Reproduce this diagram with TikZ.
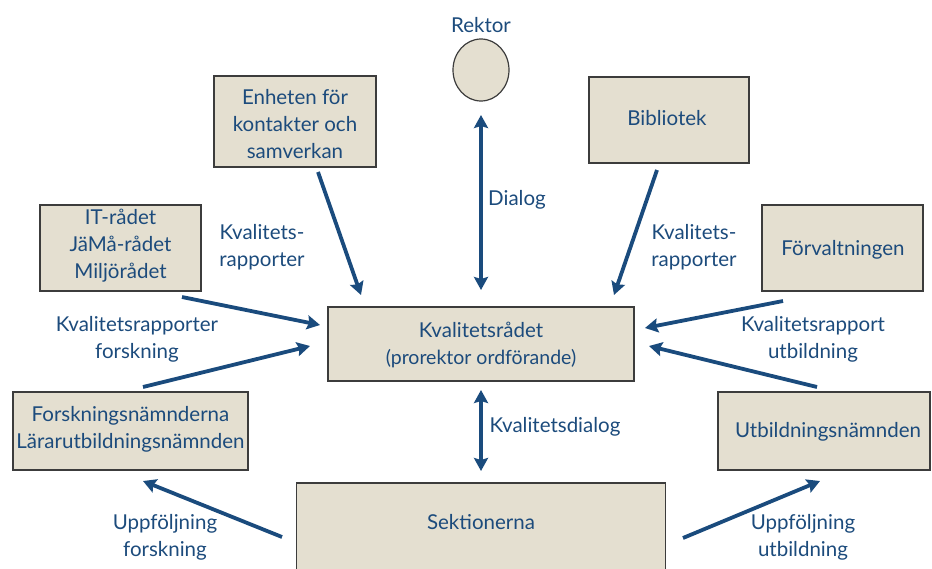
\documentclass[tikz,border=0pt]{standalone}
\usepackage{fontspec}
\setmainfont{Lato}
\usetikzlibrary{arrows.meta,shapes.geometric}
\definecolor{txtblue}{HTML}{1C4B7C}
\definecolor{arrblue}{HTML}{1A4B7D}
\definecolor{boxfill}{HTML}{E4DFD0}
\definecolor{boxline}{HTML}{3C3C3C}
\begin{document}
\begin{tikzpicture}[x=1pt,y=-1pt,
  txt/.style={text=txtblue,font=\fontsize{20.5}{27}\selectfont,align=center,inner sep=0pt},
  box/.style={draw=boxline,line width=1.2pt,fill=boxfill,inner sep=0pt},
  arr/.style={draw=arrblue,line width=3.8pt,-{Stealth[length=13pt,width=14pt,inset=2pt]}},
  darr/.style={draw=arrblue,line width=3.8pt,{Stealth[length=13pt,width=14pt,inset=2pt]}-{Stealth[length=13pt,width=14pt,inset=2pt]}}]
\useasboundingbox (0,0) rectangle (932,568);
% boxes
\node[box,ellipse,minimum width=56pt,minimum height=62pt] (rektor) at (481,70) {};
\node[txt] (rektorlbl) at (481,25) {Rektor};
\node[box,minimum width=162pt,minimum height=91pt] (enh) at (295,121.5) {};
\node[txt] (enhtxt) at (295,124) {Enheten för\\kontakter och\\samverkan};
\node[box,minimum width=160pt,minimum height=86pt] (bib) at (669,120) {};
\node[txt] (bibtxt) at (667,118) {Bibliotek};
\node[box,minimum width=161pt,minimum height=86pt] (it) at (120.5,248) {};
\node[txt] (ittxt) at (120.5,246) {IT-rådet\\JäMå-rådet\\Miljörådet};
\node[box,minimum width=161pt,minimum height=86pt] (forv) at (842.5,248) {};
\node[txt] (forvtxt) at (843,250) {Förvaltningen};
\node[box,minimum width=306pt,minimum height=74pt] (kr) at (481,344) {};
\node[txt] (krtxt) at (481,345) {Kvalitetsrådet\\{\fontsize{19.5}{25}\selectfont(prorektor ordförande)}};
\node[box,minimum width=235pt,minimum height=78pt] (fn) at (130.5,431) {};
\node[txt] (fntxt) at (130.5,429) {Forskningsnämnderna\\Lärarutbildningsnämnden};
\node[box,minimum width=212pt,minimum height=78pt] (un) at (824,431) {};
\node[txt] (untxt) at (828,432) {Utbildningsnämnden};
\node[box,minimum width=369pt,minimum height=100pt] (sek) at (481,533) {};
\node[txt] (sektxt) at (481,522) {Sektionerna};
% arrow end coordinates
\coordinate (a1s) at (481,115); \coordinate (a1e) at (481,290);
\coordinate (a2s) at (481,390); \coordinate (a2e) at (481,471);
\coordinate (a3s) at (318,172); \coordinate (a3e) at (361,295);
\coordinate (a4s) at (657,170); \coordinate (a4e) at (614,295);
\coordinate (a5s) at (182,297); \coordinate (a5e) at (320,325);
\coordinate (a6s) at (143,387); \coordinate (a6e) at (310,346);
\coordinate (a7s) at (783,301); \coordinate (a7e) at (645,328);
\coordinate (a8s) at (817,387); \coordinate (a8e) at (649,346);
\coordinate (a9s) at (282,537); \coordinate (a9e) at (143,481);
\coordinate (a10s) at (683,538); \coordinate (a10e) at (820,481);
\draw[darr] (a1s) -- (a1e);
\draw[darr] (a2s) -- (a2e);
\draw[arr] (a3s) -- (a3e);
\draw[arr] (a4s) -- (a4e);
\draw[arr] (a5s) -- (a5e);
\draw[arr] (a6s) -- (a6e);
\draw[arr] (a7s) -- (a7e);
\draw[arr] (a8s) -- (a8e);
\draw[arr] (a9s) -- (a9e);
\draw[arr] (a10s) -- (a10e);
% labels
\node[txt] (l1) at (517,200) {Dialog};
\node[txt] (l2) at (555,427) {Kvalitetsdialog};
\node[txt] (l3) at (262,247) {Kvalitets-\\rapporter};
\node[txt] (l4) at (694,247) {Kvalitets-\\rapporter};
\node[txt] (l5) at (137,339) {Kvalitetsrapporter\\forskning};
\node[txt] (l6) at (813,339) {Kvalitetsrapport\\utbildning};
\node[txt] (l7) at (165,537) {Uppföljning\\forskning};
\node[txt] (l8) at (803,537) {Uppföljning\\utbildning};
\end{tikzpicture}
\end{document}
